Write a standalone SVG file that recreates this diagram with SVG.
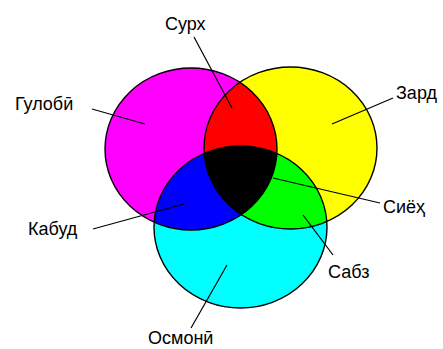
<svg xmlns="http://www.w3.org/2000/svg" width="443" height="349" viewBox="0 0 443 349">
<style>
.lbl{font-family:"Liberation Sans",Arial,sans-serif;font-size:18px;fill:#000}
.ol{fill:none;stroke:#000;stroke-width:1.4}
.ld{stroke:#000;stroke-width:1.2;fill:none}
</style>
<defs>
<ellipse id="eM" cx="191" cy="149" rx="86" ry="81"/>
<ellipse id="eY" cx="290.5" cy="148" rx="86.5" ry="81"/>
<ellipse id="eC" cx="240.5" cy="227" rx="86.5" ry="81"/>
<clipPath id="cM"><use href="#eM"/></clipPath>
<clipPath id="cY"><use href="#eY"/></clipPath>
<clipPath id="cC"><use href="#eC"/></clipPath>
</defs>
<rect width="443" height="349" fill="#fff"/>
<g id="magenta"><use href="#eM" fill="#ff00ff"/></g>
<g id="yellow"><use href="#eY" fill="#ffff00"/></g>
<g id="cyan"><use href="#eC" fill="#00ffff"/></g>
<g id="red" clip-path="url(#cM)"><use href="#eY" fill="#ff0000"/></g>
<g id="blue" clip-path="url(#cM)"><use href="#eC" fill="#0000ff"/></g>
<g id="green" clip-path="url(#cY)"><use href="#eC" fill="#00ff00"/></g>
<g id="black" clip-path="url(#cM)"><g clip-path="url(#cY)"><use href="#eC" fill="#000"/></g></g>
<g id="outlines">
<use href="#eM" class="ol"/>
<use href="#eY" class="ol"/>
<use href="#eC" class="ol"/>
</g>
<g id="connectors">
<line class="ld" x1="194" y1="37" x2="232" y2="108"/>
<line class="ld" x1="92" y1="109" x2="145" y2="124"/>
<line class="ld" x1="393" y1="98" x2="332" y2="124"/>
<line class="ld" x1="380" y1="203" x2="273" y2="178"/>
<line class="ld" x1="93" y1="229" x2="184" y2="204"/>
<line class="ld" x1="333" y1="255" x2="303" y2="215"/>
<line class="ld" x1="191" y1="328" x2="227" y2="265"/>
</g>
<g id="label-surkh"><text class="lbl" x="165" y="30">Сурх</text></g>
<g id="label-gulobi"><text class="lbl" x="15" y="110">Гулобӣ</text></g>
<g id="label-zard"><text class="lbl" x="396" y="99">Зард</text></g>
<g id="label-siyoh"><text class="lbl" x="383" y="213">Сиёҳ</text></g>
<g id="label-kabud"><text class="lbl" x="28" y="235">Кабуд</text></g>
<g id="label-sabz"><text class="lbl" x="328" y="278">Сабз</text></g>
<g id="label-osmoni"><text class="lbl" x="148" y="344">Осмонӣ</text></g>
</svg>
